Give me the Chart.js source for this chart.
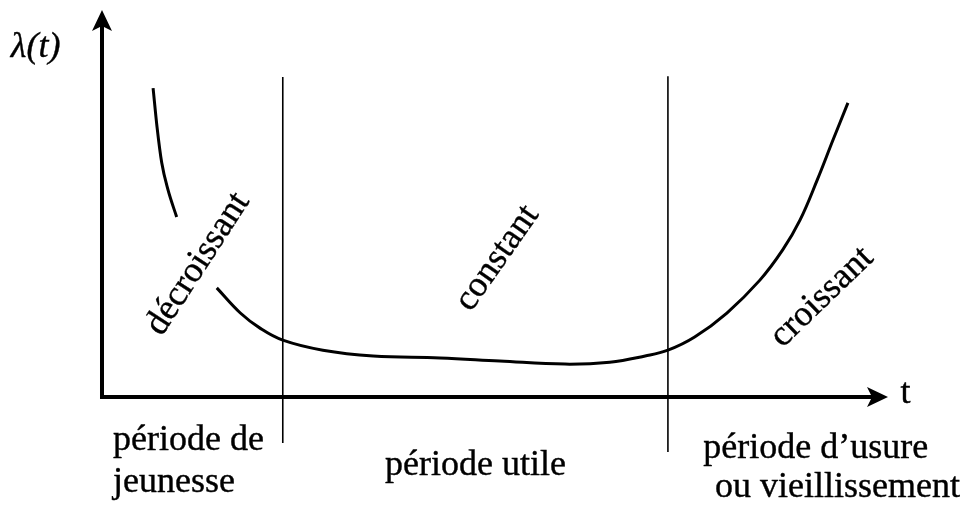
<!DOCTYPE html>
<html><head><meta charset="utf-8">
<script src="https://cdn.jsdelivr.net/npm/chart.js@4/dist/chart.umd.min.js"></script>
<style>html,body{margin:0;padding:0;background:#fff}#wrap{width:973px;height:507px}</style>
</head><body><div id="wrap"><canvas id="c" width="973" height="507"></canvas></div>
<script>
// ---- data (t in arbitrary time units 0..100, lambda in arbitrary rate units 0..100) ----
const earlyT = [6.5, 7.0, 7.6, 8.4, 9.5];
const earlyL = [79.8, 69.8, 60.5, 53.5, 46.5];
const mainT = [14.6, 17.6, 20.1, 23.0, 28.1, 34.5, 43.0, 50.6, 58.9, 64.6, 69.1, 72.0, 75.4, 79.5, 83.7, 86.6, 88.8, 91.0, 93.0, 94.9];
const mainL = [28.2, 21.7, 17.8, 14.7, 12.1, 10.6, 10.1, 9.3, 8.5, 9.0, 10.6, 12.1, 15.5, 21.7, 30.2, 38.0, 45.7, 56.1, 66.4, 76.0];
const boundaryT = [23.0, 72.0];
const boundaryTop = [82.7, 82.9];
const boundaryBottom = [-11.9, -14.2];
const axisT = [0, 100];
const axisL = [0, 100];
const phaseLabels = ['décroissant', 'constant', 'croissant'];
const periodLabels = [['période de', 'jeunesse'], ['période utile'], ['période d’usure', 'ou vieillissement']];
const yTitle = 'λ(t)';
const xTitle = 't';

// ---- layout (positions in data units) ----
const phasePos = [{t: 12.2, l: 34.4, a: -57}, {t: 50.3, l: 35.9, a: -55}, {t: 91.6, l: 25.8, a: -44}];
const periodPos = [[{t: 1.4, l: -13.7}, {t: 1.4, l: -24.6}], [{t: 36.0, l: -20.2}], [{t: 76.5, l: -15.8}, {t: 78.0, l: -25.8}]];
const yTitlePos = {t: -11.6, l: 87.9};
const xTitlePos = {t: 101.6, l: -1.6};

const toPts = (xs, ys) => xs.map((x, i) => ({x, y: ys[i]}));
const boundaryDatasets = boundaryT.map((t, i) => ({
  data: [{x: t, y: boundaryBottom[i]}, {x: t, y: boundaryTop[i]}],
  borderColor: '#000', borderWidth: 1.6, pointRadius: 0, tension: 0
}));

const SERIF = '"Liberation Serif", "Times New Roman", serif';

function txt(ctx, s, px, py) {
  ctx.fillText(s, px, py);
  ctx.lineWidth = 0.4; ctx.strokeText(s, px, py);
}

const decor = {
  id: 'decor',
  beforeDatasetsDraw(chart) {
    const {ctx, scales: {x, y}} = chart;
    const x0 = x.getPixelForValue(axisT[0]), x1 = x.getPixelForValue(axisT[1]);
    const y0 = y.getPixelForValue(axisL[0]), y1 = y.getPixelForValue(axisL[1]);
    ctx.save();
    ctx.strokeStyle = '#000'; ctx.fillStyle = '#000'; ctx.lineWidth = 4; ctx.lineCap = 'butt';
    ctx.beginPath();
    ctx.moveTo(x0 - 2, y0); ctx.lineTo(x1 - 14, y0);
    ctx.moveTo(x0, y0 + 2); ctx.lineTo(x0, y1 + 14);
    ctx.stroke();
    ctx.beginPath();
    ctx.moveTo(x1, y0); ctx.lineTo(x1 - 21, y0 - 10); ctx.lineTo(x1 - 16, y0); ctx.lineTo(x1 - 21, y0 + 10); ctx.closePath();
    ctx.fill();
    ctx.beginPath();
    ctx.moveTo(x0, y1); ctx.lineTo(x0 - 10, y1 + 21); ctx.lineTo(x0, y1 + 16); ctx.lineTo(x0 + 10, y1 + 21); ctx.closePath();
    ctx.fill();
    ctx.restore();
  },
  afterDraw(chart) {
    const {ctx, scales: {x, y}} = chart;
    ctx.save();
    ctx.fillStyle = '#000'; ctx.strokeStyle = '#000';
    ctx.font = '36px ' + SERIF;
    ctx.textAlign = 'center'; ctx.textBaseline = 'middle';
    phaseLabels.forEach((s, i) => {
      const p = phasePos[i];
      ctx.save();
      ctx.translate(x.getPixelForValue(p.t), y.getPixelForValue(p.l));
      ctx.rotate(p.a * Math.PI / 180);
      txt(ctx, s, 0, 0);
      ctx.restore();
    });
    ctx.textAlign = 'left'; ctx.textBaseline = 'alphabetic';
    periodLabels.forEach((lines, i) => {
      lines.forEach((s, j) => {
        const p = periodPos[i][j];
        txt(ctx, s, x.getPixelForValue(p.t), y.getPixelForValue(p.l));
      });
    });
    ctx.font = '36px ' + SERIF;
    txt(ctx, xTitle, x.getPixelForValue(xTitlePos.t), y.getPixelForValue(xTitlePos.l));
    ctx.font = 'italic 36px ' + SERIF;
    txt(ctx, yTitle, x.getPixelForValue(yTitlePos.t), y.getPixelForValue(yTitlePos.l));
    ctx.restore();
  }
};

new Chart(document.getElementById('c'), {
  type: 'line',
  data: {
    datasets: [
      {data: toPts(earlyT, earlyL), borderColor: '#000', borderWidth: 3, pointRadius: 0, cubicInterpolationMode: 'monotone'},
      {data: toPts(mainT, mainL), borderColor: '#000', borderWidth: 3, pointRadius: 0, tension: 0.4},
      ...boundaryDatasets
    ]
  },
  options: {
    responsive: false, animation: false, devicePixelRatio: 1,
    layout: {padding: 0},
    plugins: {legend: {display: false}, tooltip: {enabled: false}},
    scales: {
      x: {type: 'linear', display: false, min: -12.977, max: 110.814},
      y: {type: 'linear', display: false, min: -28.424, max: 102.584}
    }
  },
  plugins: [decor]
});
</script>
</body></html>
